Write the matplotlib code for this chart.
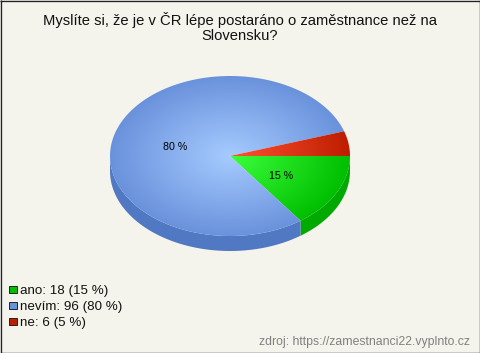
import numpy as np
import matplotlib
matplotlib.use("Agg")
import matplotlib.pyplot as plt
from matplotlib.patches import Polygon, Rectangle
from matplotlib.colors import LinearSegmentedColormap

plt.rcParams['font.family'] = ['Liberation Sans', 'DejaVu Sans']

title_lines = ["Myslíte si, že je v ČR lépe postaráno o zaměstnance než na", "Slovensku?"]
categories = ["ano", "nevím", "ne"]
values = [18, 96, 6]
percents = [15, 80, 5]
center_cols = ["#3CFF3C", "#A6CBFF", "#FF5232"]
edge_cols = ["#00BE00", "#6A92DC", "#BE1E00"]
side_cols = ["#00AA00", "#5178C2", "#A81800"]
legend_cols = ["#00BE00", "#6A92DC", "#BE1E00"]
source = "zdroj: https://zamestnanci22.vyplnto.cz"

W, H = 480, 353
cx, cy, rx, ry, depth = 230, 156, 120, 80, 15
BG = "#F5F4EC"

fig = plt.figure(figsize=(W/100, H/100), dpi=100, facecolor=BG)
ax = fig.add_axes([0, 0, 1, 1])
ax.set_xlim(0, W)
ax.set_ylim(H, 0)
ax.axis("off")

total = sum(values)
edges = np.cumsum([0] + values) / total * 2 * np.pi

yy, xx = np.mgrid[0:H*2, 0:W*2]
xx = (xx + 0.5) / 2
yy = (yy + 0.5) / 2
dist = np.clip(np.hypot((xx - cx) / rx, (yy - cy) / ry), 0, 1)

def arc(a, b):
    t = np.linspace(a, b, 200)
    return cx + rx * np.cos(t), cy + ry * np.sin(t)

# extruded sides (visible on the front half only)
for a, b, col in zip(edges[:-1], edges[1:], side_cols):
    a2, b2 = max(a, 0), min(b, np.pi)
    if a2 < b2:
        x, y = arc(a2, b2)
        pts = np.r_[np.c_[x, y], np.c_[x[::-1], y[::-1] + depth]]
        ax.add_patch(Polygon(pts, closed=True, fc=col, ec="none", lw=0))

# top surface with radial gradient
for a, b, c0, c1 in zip(edges[:-1], edges[1:], center_cols, edge_cols):
    x, y = arc(a, b)
    pts = np.r_[[[cx, cy]], np.c_[x, y]]
    poly = Polygon(pts, closed=True, fc="none", ec="none")
    ax.add_patch(poly)
    cmap = LinearSegmentedColormap.from_list("g", [c0, c1])
    im = ax.imshow(dist, cmap=cmap, vmin=0, vmax=1, extent=(0, W, H, 0),
                   interpolation="bilinear", aspect="auto", zorder=2)
    im.set_clip_path(poly)
ax.set_xlim(0, W)
ax.set_ylim(H, 0)

# slice labels
for a, b, p in zip(edges[:-1], edges[1:], percents):
    if p < 10:
        continue
    m = (a + b) / 2
    ax.text(cx + 0.48 * rx * np.cos(m), cy + 0.48 * ry * np.sin(m) + 5.5, f"{p} %",
            fontsize=7.7, ha="center", va="baseline", color="black", zorder=3)

# titles
ax.text(W/2, 25.5, title_lines[0], fontsize=10.6, ha="center", va="baseline", color="#111111", zorder=3)
ax.text(W/2, 40, title_lines[1], fontsize=10.6, ha="center", va="baseline", color="#111111", zorder=3)

# legend
for i, (c, v, p, col) in enumerate(zip(categories, values, percents, legend_cols)):
    y = 289.5 + i * 16
    ax.add_patch(Rectangle((9, y - 3.7), 7.5, 7.5, fc=col, ec="#222222", lw=0.7, zorder=3))
    ax.text(20, y + 4.7, f"{c}: {v} ({p} %)", fontsize=9.6, ha="left", va="baseline", color="#111111", zorder=3)

ax.text(470, 345, source, fontsize=8.85, ha="right", va="baseline", color="#808080", zorder=3)

# frame: dark outer line with a light inner line at top/left
ax.plot([1.5, 1.5], [1, H - 1], color="white", lw=0.7, zorder=4, solid_capstyle="butt")
ax.plot([1, W - 1], [1.5, 1.5], color="white", lw=0.7, zorder=4, solid_capstyle="butt")
ax.plot([0.5, W - 0.5], [H - 0.5, H - 0.5], color="#222222", lw=1, zorder=5, solid_capstyle="butt")
ax.plot([W - 0.5, W - 0.5], [0, H], color="#222222", lw=1, zorder=5, solid_capstyle="butt")
ax.plot([0.5, 0.5], [0, H], color="#222222", lw=1, zorder=5, solid_capstyle="butt")
ax.plot([0, W], [0.5, 0.5], color="#222222", lw=1, zorder=5, solid_capstyle="butt")

fig.savefig("out.png", dpi=100, facecolor=BG)
